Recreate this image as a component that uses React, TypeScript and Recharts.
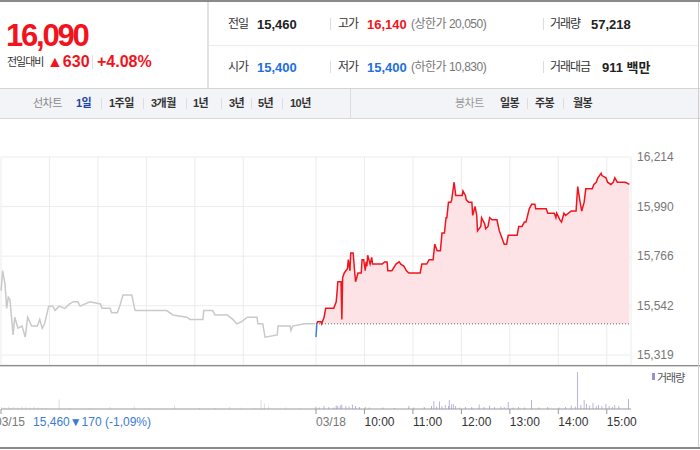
import {
  ComposedChart, Line, Area, BarChart, Bar, Cell,
  XAxis, YAxis, CartesianGrid, ReferenceLine,
} from "recharts";

const FONT = '"Liberation Sans", Arial, "Noto Sans CJK KR", sans-serif';
const RED = "#f2141c";
const BLUE = "#1f6fe0";

const PREV_CLOSE = 15460;
const PRICE_TICKS = [15319, 15542, 15766, 15990, 16214];
// minutes from 03/15 09:00; 03/18 opens at 390
const TIME_TICKS = [0, 390, 450, 510, 570, 630, 690, 750];
const TIME_LABELS = ["03/15", "03/18", "10:00", "11:00", "12:00", "13:00", "14:00", "15:00"];
const GRID_TIMES = [0, 60, 120, 180, 240, 300, 360, 390, 450, 510, 570, 630, 690, 750];

// 03/15 (grey line)
const prevTimes = [0, 1, 2, 5, 7, 9, 11, 15, 17, 21, 26, 30, 33, 38, 45, 48, 51, 54, 59, 64, 67, 72, 79, 85, 90, 95, 98, 110, 123, 125, 135, 137, 144, 147, 151, 162, 166, 205, 213, 230, 234, 250, 251, 262, 265, 280, 287, 292, 298, 305, 317, 318, 324, 327, 342, 343, 358, 359, 361, 376, 389];
const prevPrices = [15610, 15650, 15700, 15640, 15530, 15580, 15570, 15410, 15490, 15440, 15450, 15400, 15490, 15450, 15450, 15480, 15440, 15460, 15540, 15540, 15520, 15540, 15530, 15550, 15560, 15560, 15540, 15560, 15550, 15530, 15530, 15510, 15510, 15540, 15590, 15590, 15520, 15520, 15500, 15490, 15480, 15480, 15520, 15520, 15500, 15500, 15480, 15460, 15470, 15490, 15490, 15460, 15460, 15400, 15410, 15450, 15450, 15430, 15450, 15460, 15460];

// 03/18 opening below previous close (blue)
const openTimes = [390, 391];
const openPrices = [15400, 15460];

// 03/18 above previous close (red)
const todayTimes = [391, 392, 396, 397, 400, 402, 412, 415, 416, 417, 421, 422, 423, 425, 427, 429, 430, 432, 433, 436, 438, 439, 442, 446, 447, 449, 451, 452, 453, 454, 457, 459, 460, 464, 472, 475, 478, 479, 484, 489, 493, 495, 499, 502, 505, 511, 519, 521, 527, 530, 535, 537, 540, 544, 546, 549, 551, 552, 554, 557, 558, 561, 563, 571, 572, 575, 576, 579, 583, 584, 587, 589, 590, 594, 595, 599, 600, 603, 605, 608, 614, 617, 620, 623, 626, 628, 639, 641, 645, 648, 650, 654, 657, 661, 662, 675, 677, 685, 687, 688, 692, 694, 697, 699, 706, 712, 714, 717, 719, 722, 724, 727, 732, 734, 737, 739, 743, 744, 749, 751, 755, 758, 760, 763, 766, 773, 778];
const todayPrices = [15460, 15470, 15470, 15460, 15490, 15530, 15530, 15560, 15600, 15650, 15650, 15480, 15670, 15690, 15700, 15710, 15750, 15700, 15780, 15780, 15690, 15650, 15690, 15690, 15750, 15750, 15700, 15740, 15720, 15770, 15730, 15760, 15730, 15730, 15730, 15740, 15740, 15700, 15700, 15730, 15740, 15730, 15720, 15700, 15690, 15690, 15690, 15730, 15730, 15750, 15750, 15820, 15790, 15790, 15870, 15870, 15940, 15940, 16010, 16010, 16020, 16100, 16040, 16040, 16060, 16040, 16020, 16010, 16010, 15950, 15990, 15950, 15880, 15900, 15940, 15910, 15890, 15900, 15940, 15930, 15930, 15880, 15850, 15820, 15820, 15860, 15860, 15900, 15900, 15920, 15920, 15980, 16000, 16000, 15980, 15980, 15960, 15960, 15940, 15960, 15930, 15920, 15960, 15950, 15970, 15970, 16080, 16010, 15970, 16010, 16070, 16070, 16070, 16090, 16100, 16120, 16140, 16130, 16120, 16100, 16090, 16100, 16120, 16100, 16100, 16100, 16090];

// volume (shares per minute)
const volTimes = [1, 5, 9, 12, 16, 21, 26, 31, 36, 41, 46, 51, 56, 72, 85, 110, 135, 165, 184, 215, 246, 265, 283, 296, 314, 322, 326, 331, 352, 370, 390, 394, 400, 406, 412, 415, 417, 420, 422, 427, 431, 435, 439, 444, 451, 456, 473, 487, 505, 511, 524, 533, 536, 539, 543, 546, 550, 554, 555, 558, 560, 563, 568, 575, 583, 592, 598, 605, 611, 619, 623, 628, 634, 641, 648, 657, 666, 677, 691, 699, 706, 711, 714, 718, 722, 725, 729, 733, 737, 740, 744, 749, 753, 757, 760, 765, 777];
const volumes = [200, 150, 250, 120, 200, 150, 250, 180, 120, 200, 150, 120, 100, 950, 100, 80, 200, 250, 80, 350, 100, 120, 200, 150, 100, 900, 550, 250, 150, 100, 250, 150, 300, 200, 150, 350, 300, 350, 450, 300, 250, 450, 300, 200, 200, 150, 150, 100, 300, 150, 200, 300, 800, 250, 750, 300, 400, 300, 900, 450, 500, 300, 150, 200, 200, 450, 200, 350, 200, 250, 200, 700, 150, 200, 150, 900, 150, 200, 150, 200, 350, 250, 3700, 400, 900, 500, 350, 600, 300, 400, 300, 500, 300, 200, 400, 300, 1000];

type Row = { t: number; prev?: number; down?: number; up?: number };

function buildPriceRows() {
  const rows = new Map<number, Row>();
  const put = (times: number[], values: number[], key: "prev" | "down" | "up") => {
    times.forEach((t, i) => {
      const r = rows.get(t) ?? { t };
      r[key] = values[i];
      rows.set(t, r);
    });
  };
  put(prevTimes, prevPrices, "prev");
  put(openTimes, openPrices, "down");
  put(todayTimes, todayPrices, "up");
  return [...rows.values()].sort((a, b) => a.t - b.t);
}

const priceRows = buildPriceRows();
const volRows = volTimes.map((t, i) => ({ t, v: volumes[i] }));

function TimeTick({ x, y, payload }: { x?: number; y?: number; payload?: { value: number } }) {
  const t = payload?.value ?? 0;
  const label = TIME_LABELS[TIME_TICKS.indexOf(t)];
  if (t === 0) {
    return (
      <text x={(x ?? 0) - 6} y={y} dy="0.71em" fontSize={12} textAnchor="start">
        <tspan fill="#777">{label}</tspan>
        <tspan fill="#3a7bd5" dx={8}>15,460▼170 (-1,09%)</tspan>
      </text>
    );
  }
  return (
    <text x={x} y={y} dy="0.71em" fontSize={12} textAnchor="start" fill={t === 390 ? "#777" : "#333"}>
      {label}
    </text>
  );
}

function Abs({ x, y, children, style }: { x: number; y: number; children: React.ReactNode; style?: React.CSSProperties }) {
  return (
    <div style={{ position: "absolute", left: x, top: y, transform: "translateY(-50%)", whiteSpace: "nowrap", lineHeight: 1, ...style }}>
      {children}
    </div>
  );
}

function VLine({ x, y, h, color = "#ddd" }: { x: number; y: number; h: number; color?: string }) {
  return <div style={{ position: "absolute", left: x, top: y, width: 1, height: h, background: color }} />;
}

const ko: React.CSSProperties = { fontSize: 12, color: "#333", letterSpacing: -1 };
const num: React.CSSProperties = { fontSize: 13, fontWeight: "bold", color: "#222" };
const note: React.CSSProperties = { fontSize: 12, color: "#777", letterSpacing: -0.5 };
const tab: React.CSSProperties = { fontSize: 11, color: "#333", fontWeight: "bold", letterSpacing: -0.5 };

export default function App() {
  return (
    <div style={{ position: "absolute", left: 0, top: 0, width: 700, height: 450, background: "#fff", fontFamily: FONT, overflow: "hidden" }}>
      {/* header */}
      <div style={{ position: "absolute", left: 0, top: 0, width: 700, height: 2, background: "#8a8a8a" }} />
      <div style={{ position: "absolute", left: 0, top: 88, width: 700, height: 1, background: "#d4d4d4" }} />
      <div style={{ position: "absolute", left: 207, top: 2, width: 2, height: 86, background: "#e2e2e2" }} />
      <div style={{ position: "absolute", left: 209, top: 45, width: 490, height: 1, background: "#ececec" }} />

      <Abs x={6} y={35} style={{ fontSize: 31, fontWeight: "bold", color: RED, letterSpacing: -2.2 }}>16,090</Abs>
      <Abs x={7} y={62} style={{ ...ko, fontSize: 11 }}>전일대비</Abs>
      <Abs x={47} y={62} style={{ fontSize: 16, fontWeight: "bold", color: RED }}>▲630</Abs>
      <VLine x={92} y={55} h={14} />
      <Abs x={97} y={62} style={{ fontSize: 16, fontWeight: "bold", color: RED }}>+4.08%</Abs>

      <Abs x={228} y={24} style={ko}>전일</Abs>
      <Abs x={257} y={24} style={num}>15,460</Abs>
      <VLine x={330} y={18} h={12} />
      <Abs x={338} y={24} style={ko}>고가</Abs>
      <Abs x={367} y={24} style={{ ...num, color: RED }}>16,140</Abs>
      <Abs x={411} y={24} style={note}>(상한가 20,050)</Abs>
      <VLine x={543} y={18} h={12} />
      <Abs x={550} y={24} style={ko}>거래량</Abs>
      <Abs x={591} y={24} style={num}>57,218</Abs>

      <Abs x={228} y={67} style={ko}>시가</Abs>
      <Abs x={257} y={67} style={{ ...num, color: BLUE }}>15,400</Abs>
      <VLine x={330} y={61} h={12} />
      <Abs x={338} y={67} style={ko}>저가</Abs>
      <Abs x={367} y={67} style={{ ...num, color: BLUE }}>15,400</Abs>
      <Abs x={411} y={67} style={note}>(하한가 10,830)</Abs>
      <VLine x={543} y={61} h={12} />
      <Abs x={550} y={67} style={ko}>거래대금</Abs>
      <Abs x={602} y={67} style={num}>911 백만</Abs>

      {/* tab bar */}
      <div style={{ position: "absolute", left: 0, top: 89, width: 700, height: 29, background: "#f3f4f7", borderBottom: "1px solid #d9d9d9" }} />
      <VLine x={350} y={89} h={29} color="#dcdcdc" />
      <Abs x={33} y={103} style={{ ...tab, color: "#888", fontWeight: "normal" }}>선차트</Abs>
      <Abs x={76} y={103} style={{ ...tab, color: "#1d44a8" }}>1일</Abs>
      <VLine x={101} y={98} h={11} />
      <Abs x={109} y={103} style={tab}>1주일</Abs>
      <VLine x={143} y={98} h={11} />
      <Abs x={151} y={103} style={tab}>3개월</Abs>
      <VLine x={186} y={98} h={11} />
      <Abs x={193} y={103} style={tab}>1년</Abs>
      <VLine x={221} y={98} h={11} />
      <Abs x={229} y={103} style={tab}>3년</Abs>
      <VLine x={251} y={98} h={11} />
      <Abs x={258} y={103} style={tab}>5년</Abs>
      <VLine x={282} y={98} h={11} />
      <Abs x={290} y={103} style={tab}>10년</Abs>
      <Abs x={455} y={103} style={{ ...tab, color: "#999", fontWeight: "normal" }}>봉차트</Abs>
      <Abs x={500} y={103} style={tab}>일봉</Abs>
      <VLine x={527} y={98} h={11} />
      <Abs x={535} y={103} style={tab}>주봉</Abs>
      <VLine x={563} y={98} h={11} />
      <Abs x={573} y={103} style={tab}>월봉</Abs>

      {/* price panel */}
      <div style={{ position: "absolute", left: 0, top: 118 }}>
        <ComposedChart width={700} height={247} data={priceRows} margin={{ top: 39, right: 0, bottom: 0, left: 1 }}>
          <CartesianGrid stroke="#ececec" />
          <XAxis dataKey="t" type="number" domain={[0, 780]} ticks={GRID_TIMES} hide />
          <YAxis orientation="right" type="number" domain={[15274, 16214]} ticks={PRICE_TICKS}
            width={69} axisLine={false} tickLine={false} tickSize={0} tickMargin={6}
            tick={{ fontSize: 12, fill: "#777" }} tickFormatter={(v: number) => v.toLocaleString("en-US")} />
          <Area dataKey="up" type="linear" baseValue={PREV_CLOSE} stroke={RED} strokeWidth={1.5}
            fill="#fde3e5" fillOpacity={1} dot={false} activeDot={false} isAnimationActive={false} />
          <Line dataKey="prev" type="linear" stroke="#c9c9c9" strokeWidth={1.5} dot={false} activeDot={false} isAnimationActive={false} />
          <Line dataKey="down" type="linear" stroke="#3d7fdf" strokeWidth={1.5} dot={false} activeDot={false} isAnimationActive={false} />
          <ReferenceLine segment={[{ x: 390, y: PREV_CLOSE }, { x: 780, y: PREV_CLOSE }]} stroke="#666" strokeDasharray="1 2" />
        </ComposedChart>
      </div>
      <div style={{ position: "absolute", left: 0, top: 365, width: 700, height: 1, background: "#8c8c8c" }} />
      <div style={{ position: "absolute", left: 0, top: 366, width: 700, height: 1, background: "#d6d6d6" }} />

      {/* volume panel */}
      <div style={{ position: "absolute", left: 0, top: 367 }}>
        <BarChart width={700} height={72} data={volRows} margin={{ top: 0, right: 69, bottom: 0, left: 1 }}>
          <XAxis dataKey="t" type="number" domain={[0, 780]} ticks={TIME_TICKS} interval={0}
            height={30} tickSize={5} tickMargin={3} stroke="#999" tick={<TimeTick />} />
          <YAxis hide domain={[0, 4200]} />
          <Bar dataKey="v" barSize={1} isAnimationActive={false}>
            {volRows.map((r) => <Cell key={r.t} fill={r.t < 390 ? "#d0d0d0" : "#a396d4"} />)}
          </Bar>
        </BarChart>
      </div>
      <div style={{ position: "absolute", left: 652, top: 373, width: 3, height: 7, background: "#9b8fd0" }} />
      <Abs x={657} y={378} style={{ fontSize: 11, color: "#555", letterSpacing: -1 }}>거래량</Abs>

      <div style={{ position: "absolute", left: 698, top: 2, width: 1, height: 446, background: "#cfcfcf" }} />
      <div style={{ position: "absolute", left: 0, top: 447, width: 700, height: 2, background: "#8a8a8a" }} />
    </div>
  );
}
